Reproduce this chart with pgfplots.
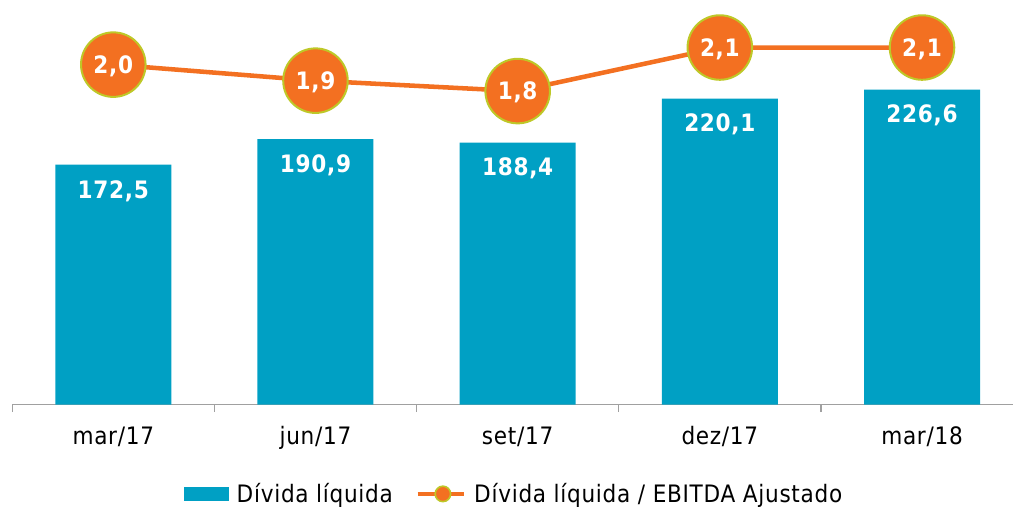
\documentclass[border=0pt]{standalone}
\usepackage{pgfplots}
\pgfplotsset{compat=1.18}
\usepackage{fontspec}
\setmainfont[LetterSpace=3]{DejaVu Sans Condensed}
\definecolor{barc}{RGB}{0,160,196}
\definecolor{linec}{RGB}{243,112,33}
\definecolor{ringc}{RGB}{190,200,40}
\definecolor{axc}{RGB}{160,160,160}
\begin{document}
\begin{tikzpicture}[font=\fontsize{18}{21.6}\selectfont]
\begin{axis}[
  at={(9.15pt,76.875pt)}, anchor=south west,
  scale only axis, width=750.6pt, height=303.375pt,
  xmin=-0.5, xmax=4.45, ymin=0, ymax=291,
  clip=false,
  axis x line*=bottom, axis y line=none,
  x axis line style={axc, line width=1pt},
  xtick={0,1,2,3,4},
  xticklabels={mar/17,jun/17,set/17,dez/17,mar/18},
  major tick length=0pt,
  minor xtick={-0.5,0.5,1.5,2.5,3.5},
  minor tick length=5.8pt,
  tick align=outside,
  minor x tick style={axc, line width=1pt},
  xticklabel style={anchor=base, yshift=-30pt, text=black},
  ytick=\empty,
  ybar, bar width=87pt,
  nodes near coords, point meta=explicit symbolic,
  nodes near coords style={text=white, font=\fontsize{18}{21.6}\selectfont\bfseries, anchor=base, yshift=-25pt, inner sep=0pt},
]
\addplot[fill=barc, draw=none] coordinates {
  (0,172.5)[172,5] (1,190.9)[190,9] (2,188.4)[188,4] (3,220.1)[220,1] (4,226.6)[226,6]
};
\end{axis}
\begin{axis}[
  at={(9.15pt,76.875pt)}, anchor=south west,
  scale only axis, width=750.6pt, height=303.375pt,
  xmin=-0.5, xmax=4.45, ymin=0.077, ymax=2.324,
  clip=false, hide axis,
  legend columns=2,
  legend style={draw=none, fill=none, at={(0.502,-0.221)}, anchor=center,
    font=\fontsize{18}{21.6}\selectfont,
    /tikz/every odd column/.append style={column sep=4pt},
    /tikz/every even column/.append style={column sep=15pt}},
]
\addlegendimage{legend image code/.code={\fill[barc] (0pt,-4.65pt) rectangle (33pt,4.65pt);}}
\addlegendentry{Dívida líquida}
\addplot[linec, line width=3.4pt, mark=*, mark size=24.2pt,
  mark options={fill=linec, draw=ringc, line width=1.5pt},
  nodes near coords, point meta=explicit symbolic,
  nodes near coords style={text=white, font=\fontsize{18}{21.6}\selectfont\bfseries, anchor=base, yshift=-6.5pt, inner sep=0pt},
  legend image code/.code={\draw[linec, line width=3pt] (0pt,0pt) -- (35pt,0pt);
    \filldraw[fill=linec, draw=ringc, line width=1.2pt] (19pt,0pt) circle (5.8pt);}
] coordinates {
  (0,1.965)[2,0] (1,1.876)[1,9] (2,1.818)[1,8] (3,2.06)[2,1] (4,2.06)[2,1]
};
\addlegendentry{Dívida líquida / EBITDA Ajustado}
\end{axis}
\pgfresetboundingbox
\path (0pt,0pt) rectangle (759.75pt,380.25pt);
\end{tikzpicture}
\end{document}
